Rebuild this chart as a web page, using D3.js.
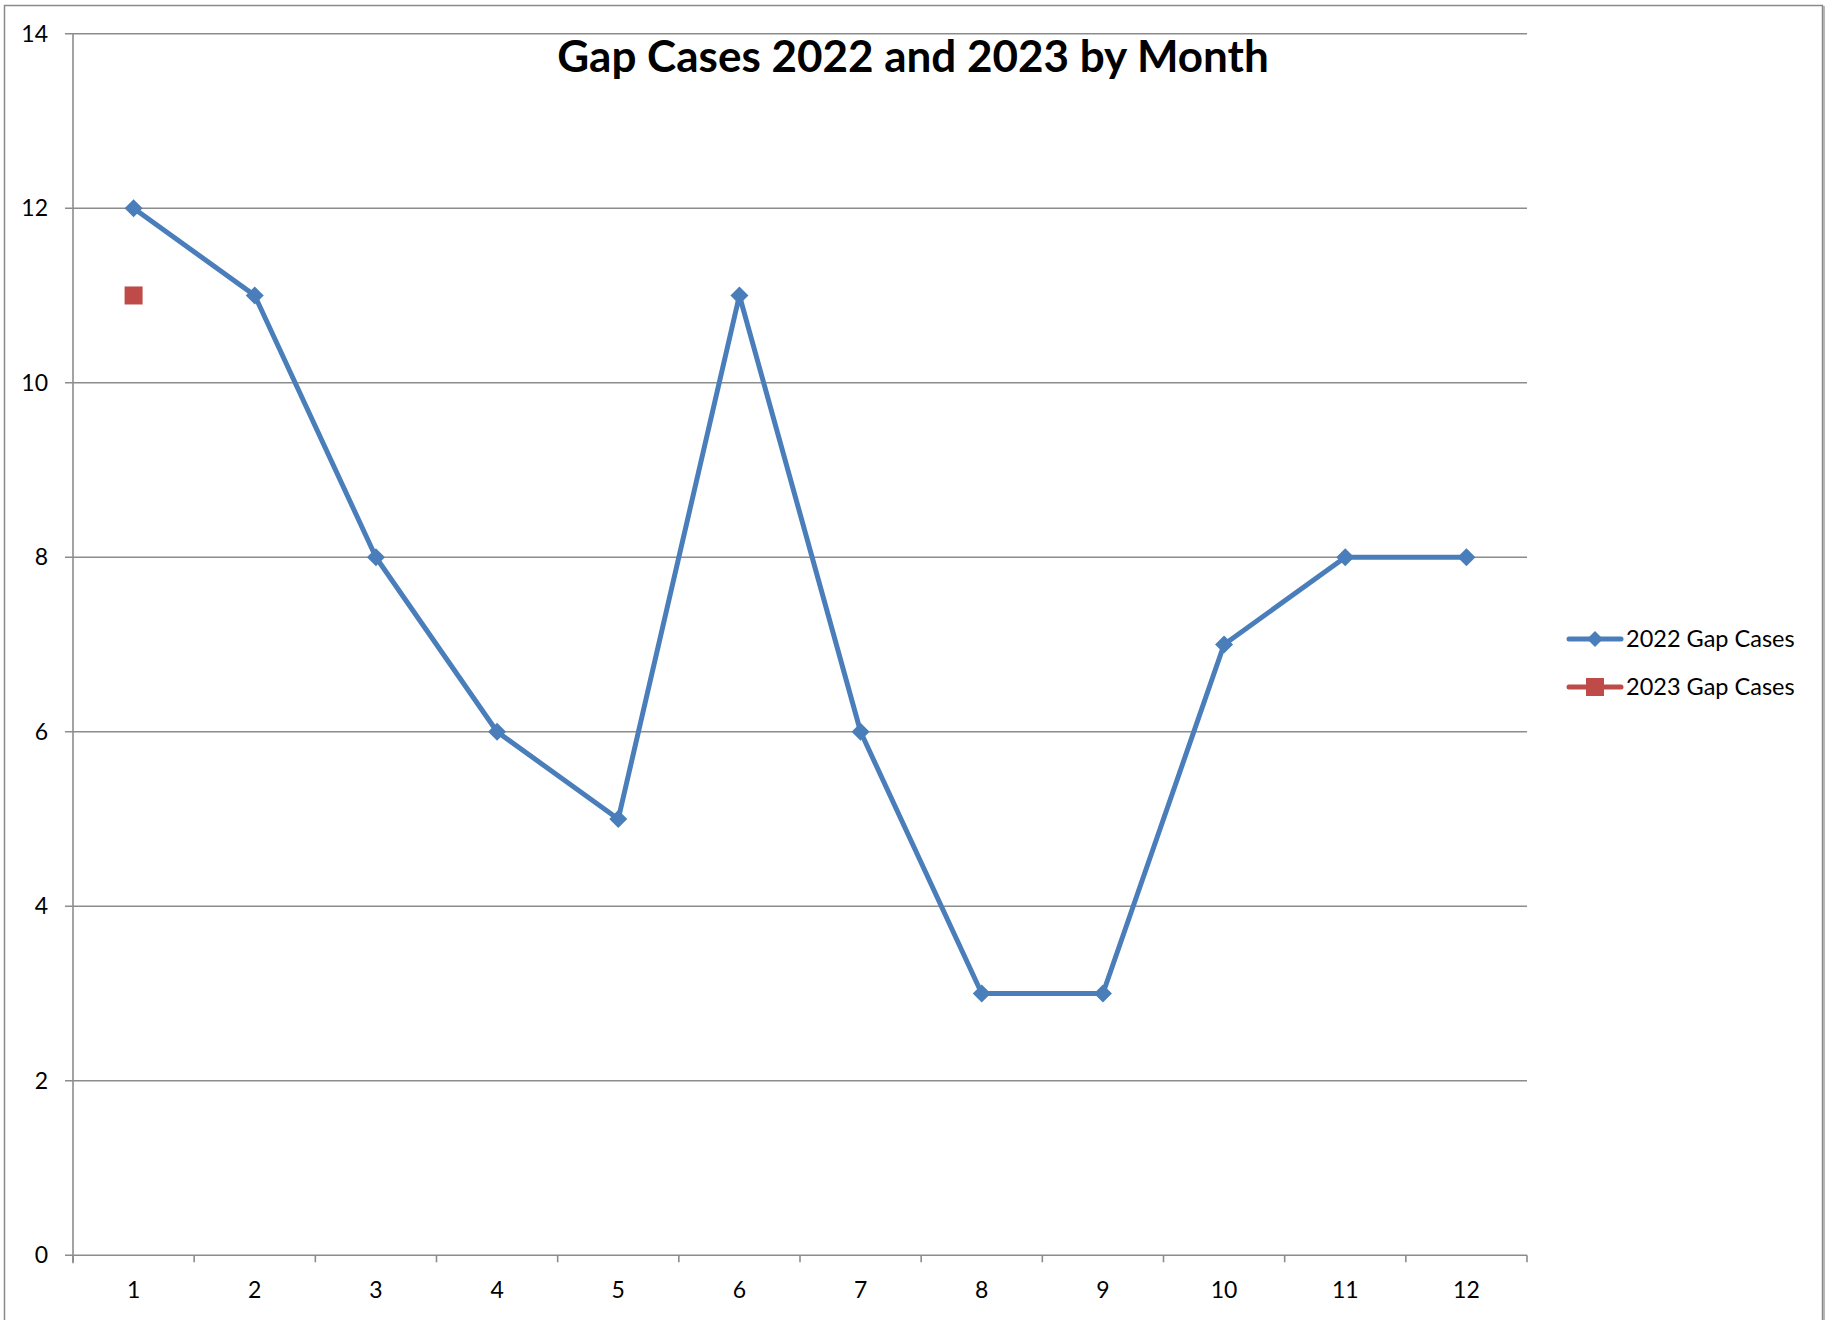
<!DOCTYPE html>
<html><head><meta charset="utf-8">
<script src="https://cdn.jsdelivr.net/npm/d3@7"></script>
<style>body{margin:0;background:#fff}svg{display:block}</style>
</head><body>
<script>
const months = [1,2,3,4,5,6,7,8,9,10,11,12];
const gap2022 = [12,11,8,6,5,11,6,3,3,7,8,8];
const gap2023 = [11];
const yTicks = [0,2,4,6,8,10,12,14];
const seriesNames = ["2022 Gap Cases","2023 Gap Cases"];
const title = "Gap Cases 2022 and 2023 by Month";

const W=1832,H=1320;
const svg=d3.select("body").append("svg").attr("width",W).attr("height",H);
const font="Lato, 'Open Sans', sans-serif";
const gridC="#8c8c8c";
// outer frame
svg.append("rect").attr("x",4.5).attr("y",5.5).attr("width",1818).attr("height",1330)
  .attr("fill","none").attr("stroke","#8a8a8a").attr("stroke-width",1.5);
svg.append("line").attr("x1",1824).attr("x2",1824).attr("y1",6).attr("y2",1320).attr("stroke","#a0a0a0").attr("stroke-width",1.5);

const L=73,R=1527,T=33.7,B=1255.3;
const x=d3.scaleBand().domain(months).range([L,R]);
const y=d3.scaleLinear().domain([0,14]).range([B,T]);

// gridlines
svg.append("g").selectAll("line").data(yTicks).join("line")
  .attr("x1",L-8).attr("x2",R).attr("y1",d=>y(d)).attr("y2",d=>y(d))
  .attr("stroke",gridC).attr("stroke-width",1.6);
// y axis line
svg.append("line").attr("x1",L).attr("x2",L).attr("y1",T).attr("y2",B+8).attr("stroke",gridC).attr("stroke-width",1.6);
// x ticks
const xb=[L].concat(months.map(m=>x(m)+x.bandwidth()));
svg.append("g").selectAll("line").data(xb).join("line")
  .attr("x1",d=>d).attr("x2",d=>d).attr("y1",B).attr("y2",B+7).attr("stroke",gridC).attr("stroke-width",1.6);
// y labels
svg.append("g").selectAll("text").data(yTicks).join("text")
  .attr("x",48).attr("y",d=>y(d)+8).attr("text-anchor","end")
  .attr("font-family",font).attr("font-size",23).attr("fill","#000").text(d=>d);
// x labels
svg.append("g").selectAll("text").data(months).join("text")
  .attr("x",d=>x(d)+x.bandwidth()/2).attr("y",1298).attr("text-anchor","middle")
  .attr("font-family",font).attr("font-size",23).attr("fill","#000").text(d=>d);

// title
svg.append("text").attr("x",913).attr("y",72).attr("text-anchor","middle")
  .attr("font-family",font).attr("font-weight","bold").attr("font-size",44).text(title);

const blue="#4a7ebb", red="#be4b48";
const cx=m=>x(m)+x.bandwidth()/2;
const line=d3.line().x((d,i)=>cx(months[i])).y(d=>y(d));
svg.append("path").attr("d",line(gap2022)).attr("fill","none").attr("stroke",blue).attr("stroke-width",5).attr("stroke-linejoin","round");
const diamond=(px,py,s)=>`M${px},${py-s}L${px+s},${py}L${px},${py+s}L${px-s},${py}Z`;
svg.append("g").selectAll("path").data(gap2022).join("path")
  .attr("d",(d,i)=>diamond(cx(months[i]),y(d),9)).attr("fill",blue);
svg.append("g").selectAll("rect").data(gap2023).join("rect")
  .attr("x",(d,i)=>cx(months[i])-9).attr("y",d=>y(d)-9).attr("width",18).attr("height",18).attr("fill",red);

// legend
const lg=svg.append("g");
const ly=[639,687];
[blue,red].forEach((c,i)=>{
  lg.append("line").attr("x1",1569).attr("x2",1621).attr("y1",ly[i]).attr("y2",ly[i]).attr("stroke",c).attr("stroke-width",5).attr("stroke-linecap","round");
  if(i==0) lg.append("path").attr("d",diamond(1595,ly[i],8)).attr("fill",c);
  else lg.append("rect").attr("x",1586).attr("y",ly[i]-9).attr("width",18).attr("height",18).attr("fill",c);
  lg.append("text").attr("x",1626).attr("y",ly[i]+8).attr("font-family",font).attr("font-size",23.5).text(seriesNames[i]);
});
</script>
</body></html>
